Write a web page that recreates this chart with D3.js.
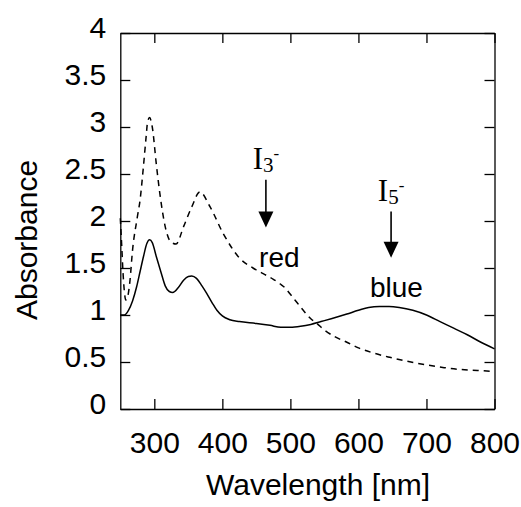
<!DOCTYPE html>
<html>
  <head>
    <meta charset="utf-8">
    <title>Absorbance spectra</title>
    <script src="https://cdn.jsdelivr.net/npm/d3@7"></script>
    <style>
      body { margin: 0; background: #fff; }
      svg { display: block; font-family: "Liberation Sans", Arial, sans-serif; }
      .axis path, .axis line { stroke: #000; stroke-width: 1.3; }
      .axis text { font-size: 30px; fill: #000; }
      .axisLabel { font-size: 30px; fill: #000; }
      .curve { fill: none; stroke: #000; stroke-width: 1.5; }
      .dashed { stroke-dasharray: 6 5; }
      .note { font-size: 28px; fill: #000; }
      .ion { font-family: "Liberation Serif", "Times New Roman", serif; fill: #000; }
    </style>
  </head>

  <body>
    <svg id="chart" width="521" height="507"></svg>

    <script>
      // solid spectrum (wavelength nm, absorbance)
      solidWave = [250, 256, 262, 268, 274, 279, 284, 289, 293, 297, 303, 310, 316, 322, 327, 335, 343, 350, 355, 362, 370, 377, 385, 392, 400, 411, 425, 450, 470, 486, 500, 515, 530, 545, 560, 583, 600, 615, 631, 645, 660, 680, 700, 720, 740, 760, 780, 800];
      solidAbs = [1.00, 1.00, 1.05, 1.15, 1.30, 1.46, 1.62, 1.76, 1.80, 1.77, 1.62, 1.45, 1.31, 1.25, 1.24, 1.29, 1.37, 1.41, 1.415, 1.39, 1.31, 1.23, 1.13, 1.05, 0.99, 0.95, 0.93, 0.91, 0.89, 0.87, 0.87, 0.88, 0.90, 0.93, 0.96, 1.01, 1.05, 1.08, 1.09, 1.09, 1.08, 1.05, 1.00, 0.93, 0.86, 0.79, 0.71, 0.64];

      // dashed spectrum
      dashWave = [250, 252, 254, 256, 258, 261, 264, 268, 275, 279, 284, 288, 290, 293, 297, 303, 308, 316, 324, 332, 343, 355, 367, 382, 401, 426, 445, 460, 475, 485, 492, 500, 510, 520, 530, 539, 550, 565, 583, 600, 620, 646, 670, 700, 726, 750, 775, 800];
      dashAbs = [2.03, 1.75, 1.45, 1.25, 1.16, 1.20, 1.35, 1.69, 2.04, 2.22, 2.58, 2.90, 3.05, 3.10, 3.00, 2.60, 2.30, 1.94, 1.78, 1.755, 1.94, 2.15, 2.31, 2.15, 1.87, 1.60, 1.50, 1.44, 1.38, 1.33, 1.29, 1.22, 1.13, 1.04, 0.96, 0.91, 0.84, 0.77, 0.71, 0.65, 0.60, 0.55, 0.51, 0.47, 0.44, 0.42, 0.41, 0.40];

      xTicks = [300, 400, 500, 600, 700, 800];
      yTicks = [0, 0.5, 1, 1.5, 2, 2.5, 3, 3.5, 4];

      // annotations: ion label, subscript, arrow wavelength, arrow top / tip, band name
      ionSub = ["3", "5"];
      ionWave = [464, 648];
      ionLabelAbs = [2.55, 2.21];
      arrowTop = [2.44, 2.10];
      arrowTip = [1.93, 1.61];
      bandName = ["red", "blue"];
      bandWave = [454, 617];
      bandAbs = [1.51, 1.19];

      margin = { top: 33, right: 26.5, bottom: 98, left: 120.3 };
      chart = d3.select("#chart");
      width = 521;
      height = 507;

      x = d3.scaleLinear().domain([250, 800]).range([margin.left, width - margin.right]);
      y = d3.scaleLinear().domain([0, 4]).range([height - margin.bottom, margin.top]);

      line = d3.line()
        .x(function(d) { return x(d[0]); })
        .y(function(d) { return y(d[1]); })
        .curve(d3.curveMonotoneX);

      solid = d3.zip(solidWave, solidAbs);
      dashed = d3.zip(dashWave, dashAbs);

      chart.append("path").datum(dashed).attr("class", "curve dashed").attr("d", line);
      chart.append("path").datum(solid).attr("class", "curve").attr("d", line);

      // axes with inward ticks on all four sides
      chart.append("g").attr("class", "axis")
        .attr("transform", "translate(0," + y(0) + ")")
        .call(d3.axisBottom(x).tickValues(xTicks).tickSizeInner(-10).tickSizeOuter(0).tickPadding(23));
      chart.append("g").attr("class", "axis")
        .attr("transform", "translate(0," + y(4) + ")")
        .call(d3.axisTop(x).tickValues(xTicks).tickSizeInner(-10).tickSizeOuter(0).tickFormat(""));
      yAxisGroup = chart.append("g").attr("class", "axis")
        .attr("transform", "translate(" + x(250) + ",0)")
        .call(d3.axisLeft(y).tickValues(yTicks).tickSizeInner(-10).tickSizeOuter(0).tickPadding(14).tickFormat(d3.format("")));
      yAxisGroup.selectAll(".tick text").attr("dy", "0.14em");
      chart.append("g").attr("class", "axis")
        .attr("transform", "translate(" + x(800) + ",0)")
        .call(d3.axisRight(y).tickValues(yTicks).tickSizeInner(-10).tickSizeOuter(0).tickFormat(""));

      chart.append("text").attr("class", "axisLabel")
        .attr("x", 318)
        .attr("y", 495)
        .attr("text-anchor", "middle")
        .text("Wavelength [nm]");
      chart.append("text").attr("class", "axisLabel")
        .attr("transform", "translate(37," + 240 + ") rotate(-90)")
        .attr("text-anchor", "middle")
        .text("Absorbance");

      // arrows and labels
      ionWave.forEach(function(w, i) {
        var ax = x(w);
        var t = chart.append("text").attr("class", "ion")
          .attr("x", ax).attr("y", y(ionLabelAbs[i]))
          .attr("text-anchor", "middle");
        t.append("tspan").attr("font-size", 31).text("I");
        t.append("tspan").attr("font-size", 21).attr("dy", 3).text(ionSub[i]);
        t.append("tspan").attr("font-size", 17).attr("dy", -13).text("-");

        var yTop = y(arrowTop[i]), yTip = y(arrowTip[i]);
        chart.append("line")
          .attr("x1", ax).attr("x2", ax)
          .attr("y1", yTop).attr("y2", yTip - 12)
          .attr("stroke", "#000").attr("stroke-width", 1.6);
        chart.append("path")
          .attr("d", "M" + (ax - 7.5) + "," + (yTip - 16) + "L" + (ax + 7.5) + "," + (yTip - 16) + "L" + ax + "," + yTip + "Z")
          .attr("fill", "#000");

        chart.append("text").attr("class", "note")
          .attr("x", x(bandWave[i])).attr("y", y(bandAbs[i]))
          .text(bandName[i]);
      });
    </script>
  </body>
</html>
